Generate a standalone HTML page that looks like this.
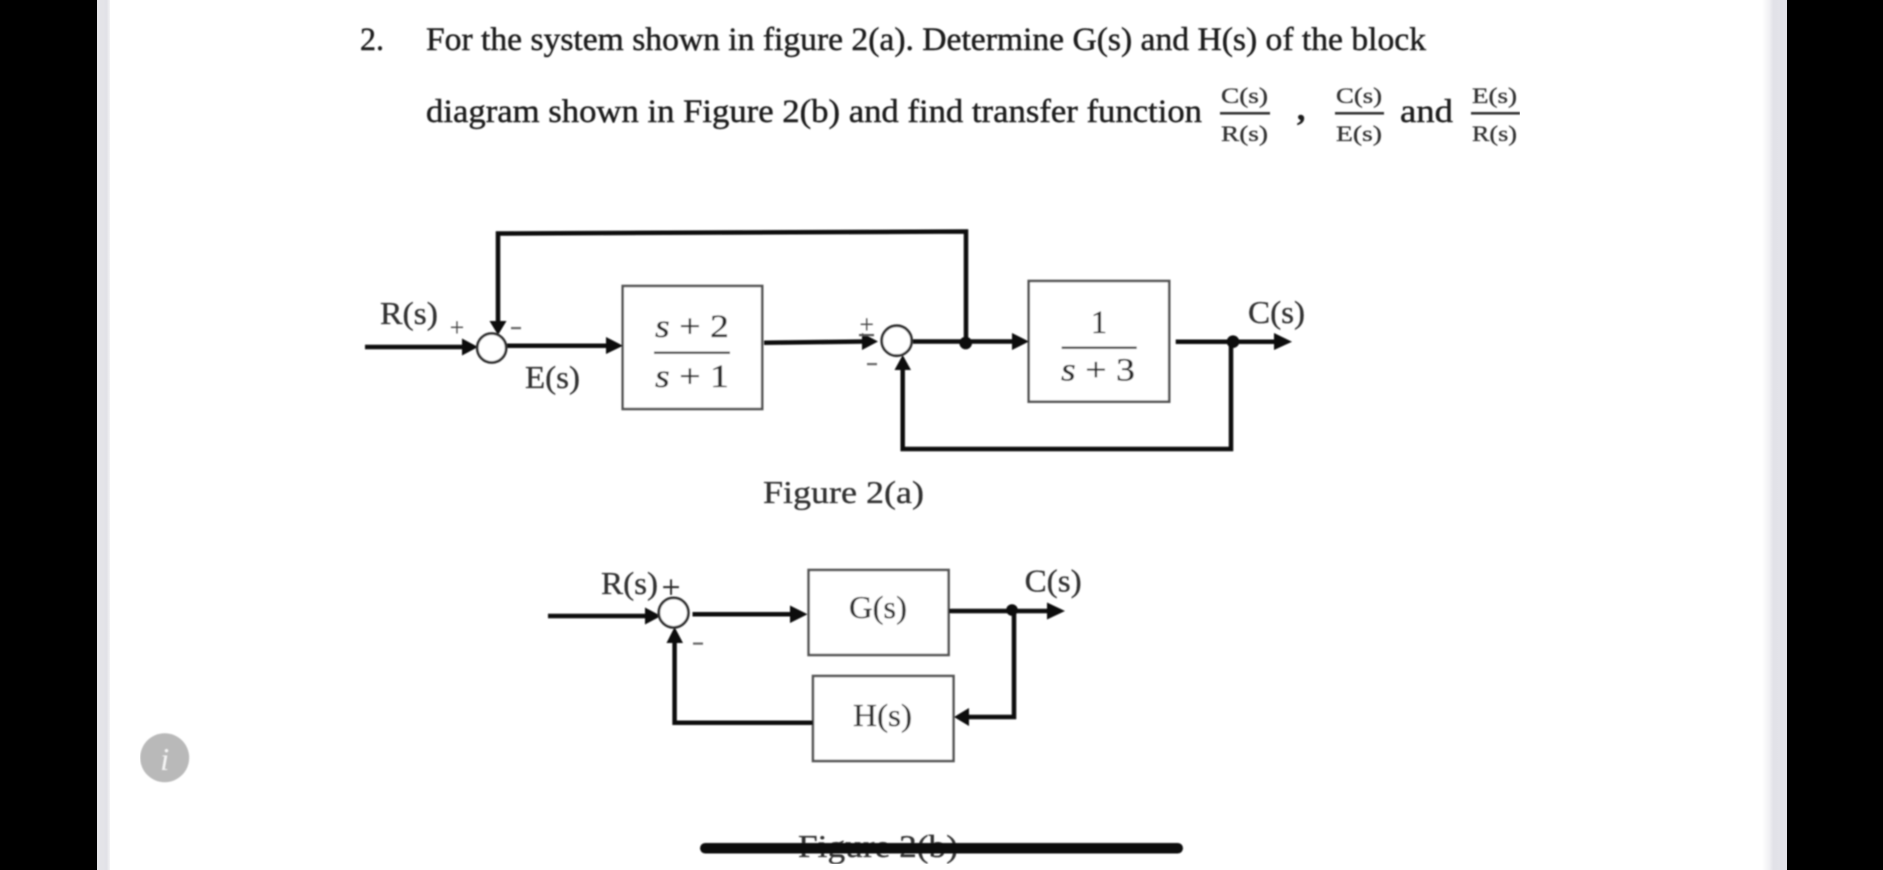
<!DOCTYPE html>
<html>
<head>
<meta charset="utf-8">
<style>
html,body{margin:0;padding:0;width:1883px;height:870px;overflow:hidden;background:#000}
svg{display:block}
text{font-family:"Liberation Serif",serif;fill:#2a2a2a}
.t{font-size:33px;fill:#1c1c1c;stroke:#1c1c1c;stroke-width:.45}
.l{font-size:32px;fill:#333;stroke:#333;stroke-width:.35}
.m{font-size:22px;fill:#333;stroke:#333;stroke-width:.35}
.e{font-size:33px;fill:#2c2c2c;stroke:#2c2c2c;stroke-width:.35;text-anchor:middle}
.s{font-size:26px;fill:#444;text-anchor:middle}
.w{stroke:#0c0c0c;stroke-width:4.5;fill:none}
.b{stroke:#555;stroke-width:2.6;fill:#fff}
.c{stroke:#333;stroke-width:2.8;fill:#fff}
.f{stroke:#444;stroke-width:2.4}
.a{fill:#0c0c0c}
</style>
</head>
<body>
<svg width="1883" height="870" viewBox="0 0 1883 870" xmlns="http://www.w3.org/2000/svg">
<defs>
<filter id="bl" x="0" y="0" width="100%" height="100%"><feGaussianBlur stdDeviation="0.7"/></filter>
<linearGradient id="gl" x1="0" x2="1" y1="0" y2="0"><stop offset="0" stop-color="#e6e6ea"/><stop offset=".75" stop-color="#e2e2e7"/><stop offset="1" stop-color="#f4f4f6"/></linearGradient>
<linearGradient id="gr" x1="0" x2="1" y1="0" y2="0"><stop offset="0" stop-color="#ffffff"/><stop offset=".3" stop-color="#f0f0f3"/><stop offset=".45" stop-color="#e2e2e8"/><stop offset="1" stop-color="#e4e4ea"/></linearGradient>
</defs>
<rect width="1883" height="870" fill="#000"/>
<rect x="97" y="0" width="1690" height="870" fill="#fff"/>
<rect x="97" y="0" width="13" height="870" fill="url(#gl)"/>
<rect x="1762" y="0" width="25" height="870" fill="url(#gr)"/>
<g filter="url(#bl)">
<!-- Question -->
<text class="t" x="360" y="50" textLength="24" lengthAdjust="spacingAndGlyphs">2.</text>
<text class="t" x="426" y="50" textLength="1000" lengthAdjust="spacingAndGlyphs">For the system shown in figure 2(a). Determine G(s) and H(s) of the block</text>
<text class="t" x="426" y="122" textLength="776" lengthAdjust="spacingAndGlyphs">diagram shown in Figure 2(b) and find transfer function</text>
<text class="m" x="1221" y="103" textLength="47" lengthAdjust="spacingAndGlyphs">C(s)</text>
<rect x="1220" y="112" width="50" height="2.6" fill="#333"/>
<text class="m" x="1221" y="141" textLength="47" lengthAdjust="spacingAndGlyphs">R(s)</text>
<text class="t" x="1297" y="120" font-weight="bold">,</text>
<text class="m" x="1336" y="103" textLength="46" lengthAdjust="spacingAndGlyphs">C(s)</text>
<rect x="1335" y="112" width="49" height="2.6" fill="#333"/>
<text class="m" x="1336" y="141" textLength="46" lengthAdjust="spacingAndGlyphs">E(s)</text>
<text class="t" x="1400" y="122" textLength="53" lengthAdjust="spacingAndGlyphs">and</text>
<text class="m" x="1472" y="103" textLength="45" lengthAdjust="spacingAndGlyphs">E(s)</text>
<rect x="1471" y="112" width="49" height="2.6" fill="#333"/>
<text class="m" x="1472" y="141" textLength="45" lengthAdjust="spacingAndGlyphs">R(s)</text>

<!-- Figure 2(a) -->
<rect class="b" x="622.7" y="286" width="139.5" height="123"/>
<rect class="b" x="1028.7" y="281" width="140.5" height="120.7"/>
<path class="w" d="M365 347H465"/>
<path class="w" d="M498 323V233.5L966 231.5V343"/>
<path class="w" d="M507 345.7H609"/>
<path class="w" d="M764 342.7L865 341.5"/>
<path class="w" d="M913 341.5H1015"/>
<path class="w" d="M1175.7 341.7H1277"/>
<path class="w" d="M1231 342V449H902.7V368"/>
<polygon class="a" points="462,338.5 478,347 462,355.5"/>
<polygon class="a" points="489.5,321 506.5,321 498,335"/>
<polygon class="a" points="606,337 623,345.7 606,354"/>
<polygon class="a" points="862,333 878,341.5 862,350"/>
<polygon class="a" points="1012,333 1029,341.5 1012,350"/>
<polygon class="a" points="1274,333 1292,341.7 1274,350"/>
<polygon class="a" points="894.5,370 911,370 902.7,355"/>
<circle class="c" cx="491.7" cy="348" r="14.5"/>
<circle class="c" cx="896.7" cy="340.7" r="15"/>
<circle class="a" cx="965.7" cy="343" r="6.3"/>
<circle class="a" cx="1233" cy="341.7" r="6.3"/>
<text class="l" x="380" y="324" textLength="58" lengthAdjust="spacingAndGlyphs">R(s)</text>
<text class="l" x="525" y="388" textLength="55" lengthAdjust="spacingAndGlyphs">E(s)</text>
<text class="l" x="1248" y="323" textLength="57" lengthAdjust="spacingAndGlyphs">C(s)</text>
<text class="s" x="457" y="336">+</text>
<rect x="511" y="327" width="10" height="2.2" fill="#666"/>
<text class="s" x="866.7" y="333">+</text>
<rect x="859" y="334" width="15" height="2.2" fill="#555"/>
<rect x="867" y="363" width="10" height="2.2" fill="#666"/>
<text class="e" x="692" y="337" textLength="74" lengthAdjust="spacingAndGlyphs"><tspan font-style="italic">s</tspan> + 2</text>
<line class="f" x1="654" y1="352.7" x2="730" y2="352.7"/>
<text class="e" x="692" y="387" textLength="74" lengthAdjust="spacingAndGlyphs"><tspan font-style="italic">s</tspan> + 1</text>
<text class="e" x="1099" y="333">1</text>
<line class="f" x1="1061.7" y1="347.7" x2="1136.7" y2="347.7"/>
<text class="e" x="1098" y="380.7" textLength="74" lengthAdjust="spacingAndGlyphs"><tspan font-style="italic">s</tspan> + 3</text>
<text class="l" x="763" y="503" textLength="161" lengthAdjust="spacingAndGlyphs">Figure 2(a)</text>

<!-- Figure 2(b) -->
<rect class="b" x="808.6" y="570" width="140" height="85"/>
<rect class="b" x="813" y="676" width="140.5" height="85"/>
<path class="w" d="M548 616H648"/>
<path class="w" d="M692.5 614.3H792"/>
<path class="w" d="M949 611H1050"/>
<path class="w" d="M1014 611V717H966"/>
<path class="w" d="M813 722.7H674.6V640"/>
<polygon class="a" points="645,607.5 661,616 645,624.5"/>
<polygon class="a" points="790,605.5 807.5,614.3 790,623"/>
<polygon class="a" points="1047,602.5 1065,611 1047,619.5"/>
<polygon class="a" points="969,708 954,717 969,726"/>
<polygon class="a" points="666.5,643 683,643 674.6,627"/>
<circle class="c" cx="673.6" cy="612.7" r="14.8"/>
<circle class="a" cx="1012" cy="610" r="5.8"/>
<text class="l" x="601" y="594" textLength="57" lengthAdjust="spacingAndGlyphs">R(s)</text>
<text class="e" x="671" y="598" font-size="30">+</text>
<rect x="693" y="642.5" width="10" height="2.2" fill="#666"/>
<text class="l" x="849" y="618" textLength="58" lengthAdjust="spacingAndGlyphs">G(s)</text>
<text class="l" x="853" y="726" textLength="59" lengthAdjust="spacingAndGlyphs">H(s)</text>
<text class="l" x="1024.6" y="591.7" textLength="57" lengthAdjust="spacingAndGlyphs">C(s)</text>
<text class="l" x="798" y="857" textLength="160" lengthAdjust="spacingAndGlyphs">Figure 2(b)</text>
<!-- home bar -->
<rect x="700" y="843" width="483" height="10.5" rx="5.2" fill="#111"/>

<!-- info button -->
<circle cx="164.7" cy="757.7" r="24.5" fill="#b9b9b9"/>
<text x="164.7" y="770" font-size="32" font-style="italic" text-anchor="middle" style="fill:#f5f5f5">i</text>
</g>
</svg>
</body>
</html>
